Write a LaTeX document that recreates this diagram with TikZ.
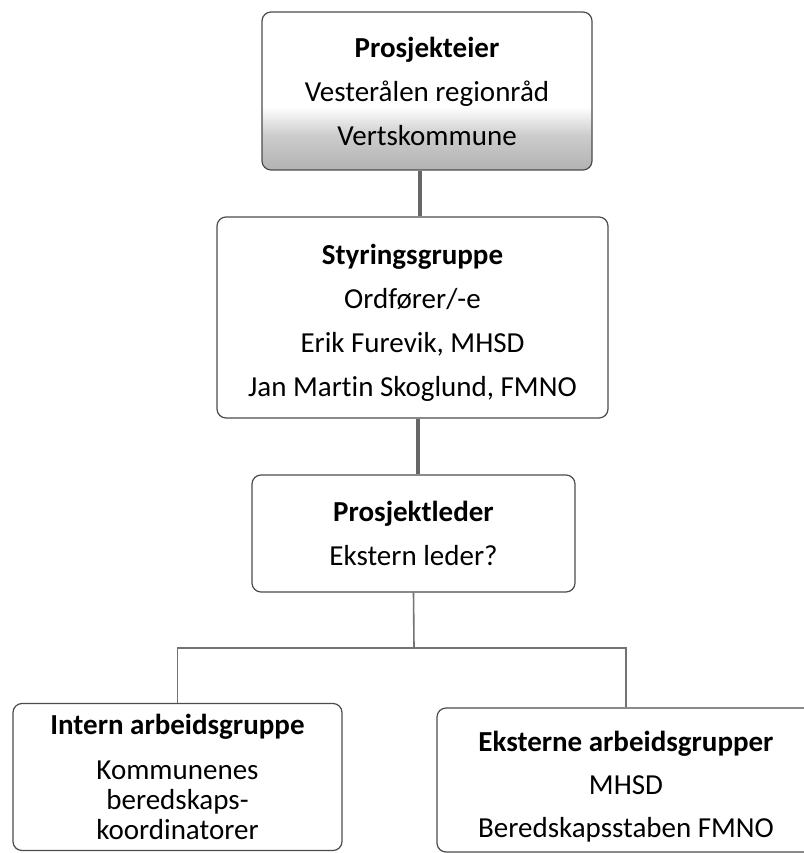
\documentclass[tikz,border=0pt]{standalone}
\usepackage{fontspec}
\setmainfont{Carlito}[Ligatures={NoCommon}]
\usetikzlibrary{positioning}
\pgfdeclareverticalshading{eierskygge}{100bp}{color(0bp)=(gray!60); color(25bp)=(gray!60); color(36bp)=(gray!40); color(45bp)=(white); color(100bp)=(white)}

\begin{document}
\begin{tikzpicture}[x=1pt,y=-1pt]
\tikzstyle{every node}+=[inner sep=0pt]
\tikzstyle{boks}=[draw=black!70, line width=1.2pt, rounded corners=9pt, fill=white, align=center, text=black, font=\fontsize{29}{44}\selectfont]
\tikzstyle{tykklinje}=[draw=black!60, line width=4.5pt]
\tikzstyle{tynnlinje}=[draw=black!55, line width=1.6pt]
\fill[white] (0,0) rectangle (803,853);
\useasboundingbox (0,0) rectangle (803,853);
% bokser
\node[boks, minimum width=330, minimum height=158, shading=eierskygge, shade] (eier) at (427,91) {\textbf{Prosjekteier}\\Vesterålen regionråd\\Vertskommune};
\node[boks, minimum width=391, minimum height=201] (styr) at (412.5,317.5) {\rule{0pt}{30pt}\textbf{Styringsgruppe}\\Ordfører/-e\\Erik Furevik, MHSD\\Jan Martin Skoglund, FMNO};
\node[boks, minimum width=323, minimum height=117] (leder) at (413.5,533.5) {\textbf{Prosjektleder}\\Ekstern leder?};
\node[boks, minimum width=329, minimum height=147, font=\fontsize{29}{30}\selectfont] (intern) at (177.5,777) {\textbf{Intern arbeidsgruppe}\\[15pt]Kommunenes\\beredskaps-\\koordinatorer};
\node[boks, minimum width=378, minimum height=144, font=\fontsize{29}{43}\selectfont] (ekstern) at (626,780) {\rule{0pt}{34pt}\textbf{Eksterne arbeidsgrupper}\\MHSD\\Beredskapsstaben FMNO};
% linjer
\coordinate (gren) at (414,648);
\draw[tykklinje] (eier.south -| 420,0) -- (styr.north -| 420,0);
\draw[tykklinje] (styr.south -| 418,0) -- (leder.north -| 418,0);
\draw[tynnlinje] (leder.south) -- (gren);
\draw[tynnlinje] (intern.north) |- (gren) -| (ekstern.north);
\end{tikzpicture}
\end{document}
